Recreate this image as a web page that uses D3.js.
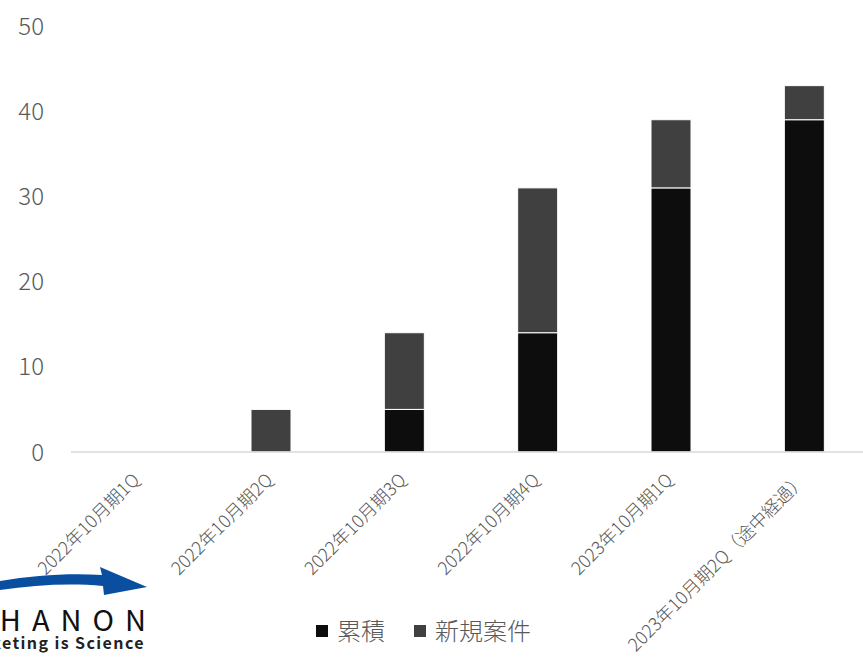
<!DOCTYPE html>
<html>
<head>
<meta charset="utf-8">
<script src="https://cdn.jsdelivr.net/npm/d3@7"></script>
<style>
  body { margin: 0; background: #fff; }
  text { font-family: "Noto Sans CJK JP", "Noto Sans", sans-serif; }
</style>
</head>
<body>
<div id="chart"></div>
<script>
// Data
const categories = [
  "2022年10月期1Q", "2022年10月期2Q", "2022年10月期3Q",
  "2022年10月期4Q", "2023年10月期1Q", "2023年10月期2Q（途中経過）"
];
const cumulative = [0, 0, 5, 14, 31, 39];   // 累積
const newCases = [0, 5, 9, 17, 8, 4];        // 新規案件
const seriesNames = ["累積", "新規案件"];
const yTicks = [0, 10, 20, 30, 40, 50];

const width = 863;
const height = 657;
const colors = ["#0d0d0d", "#404040"];

const svg = d3.select("#chart").append("svg")
    .attr("width", width)
    .attr("height", height);

const x = d3.scaleBand()
    .domain(categories)
    .range([71, 871])
    .paddingInner(0.7)
    .paddingOuter(0.35);

const y = d3.scaleLinear()
    .domain([0, 50])
    .range([452, 26]);

// Stack data
const rows = categories.map((c, i) => ({ cat: c, "累積": cumulative[i], "新規案件": newCases[i] }));
const stacked = d3.stack().keys(seriesNames)(rows);

// y labels
svg.append("g")
  .selectAll("text")
  .data(yTicks)
  .enter().append("text")
    .attr("x", 44)
    .attr("y", d => y(d))
    .attr("dy", "0.36em")
    .attr("text-anchor", "end")
    .attr("font-size", 24)
    .attr("font-weight", 300)
    .attr("fill", "#595959")
    .text(d => d);

// Bars
svg.append("g")
  .selectAll("g")
  .data(stacked)
  .enter().append("g")
    .attr("fill", (d, i) => colors[i])
  .selectAll("rect")
  .data(d => d.filter(p => p[1] - p[0] > 0))
  .enter().append("rect")
    .attr("x", d => x(d.data.cat))
    .attr("y", d => y(d[1]))
    .attr("width", x.bandwidth())
    .attr("height", d => y(d[0]) - y(d[1]))
    .attr("stroke", "#fff")
    .attr("stroke-width", 1);

// Axis line
svg.append("line")
    .attr("x1", 71).attr("x2", width)
    .attr("y1", y(0)).attr("y2", y(0))
    .attr("stroke", "#d9d9d9")
    .attr("stroke-width", 1.5);

// Logo (cut off at the left edge, as in the source image)
const logo = svg.append("g");
logo.append("path")
    .attr("d", "M0,581 C35,575 70,573 102,575 L100,567 L147,587 L104,595 L103,586 C70,583 35,585 0,590 Z")
    .attr("fill", "#0a4ea0");
logo.append("text")
    .attr("x", 157).attr("y", 631)
    .attr("text-anchor", "end")
    .attr("font-size", 29)
    .attr("letter-spacing", "11px")
    .attr("fill", "#111")
    .text("SHANON");
logo.append("text")
    .attr("x", 145).attr("y", 649)
    .attr("text-anchor", "end")
    .attr("font-size", 16)
    .attr("font-weight", "bold")
    .attr("letter-spacing", "1.4px")
    .attr("fill", "#222")
    .text("Marketing is Science");

// x labels
svg.append("g")
  .selectAll("text")
  .data(categories)
  .enter().append("text")
    .attr("transform", d => `translate(${x(d) + x.bandwidth() / 2 + 3},${481}) rotate(-45)`)
    .attr("text-anchor", "end")
    .attr("font-size", 18)
    .attr("font-weight", 300)
    .attr("fill", "#595959")
    .text(d => d);

// Legend
const legend = svg.append("g");
const legendX = [316, 414];
seriesNames.forEach((name, i) => {
  legend.append("rect")
      .attr("x", legendX[i]).attr("y", 625)
      .attr("width", 12).attr("height", 12)
      .attr("fill", colors[i]);
  legend.append("text")
      .attr("x", legendX[i] + 21).attr("y", 640)
      .attr("font-size", 24)
      .attr("font-weight", 300)
      .attr("fill", "#595959")
      .text(name);
});
</script>
</body>
</html>
